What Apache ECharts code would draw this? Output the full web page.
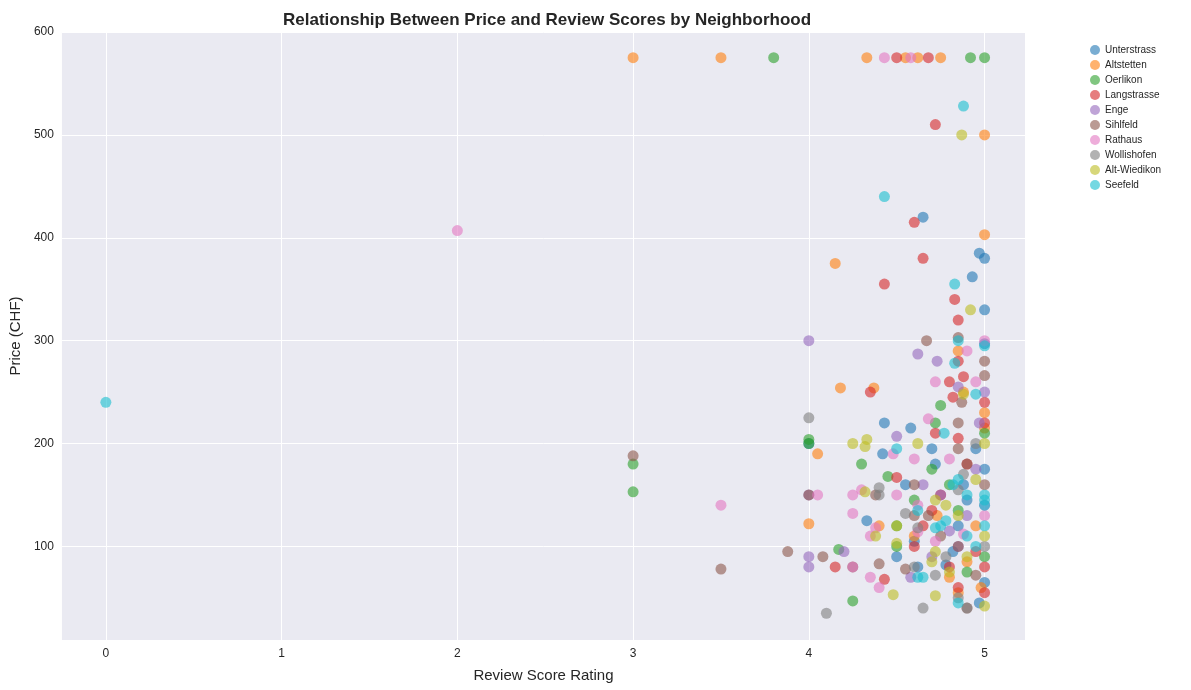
<!DOCTYPE html>
<html>
<head>
<meta charset="utf-8">
<script src="https://cdn.jsdelivr.net/npm/echarts@6/dist/echarts.min.js"></script>
<style>html,body{margin:0;background:#fff}#chart{width:1191px;height:690px}</style>
</head>
<body>
<div id="chart"></div>
<script>
const neighborhoods = ["Unterstrass","Altstetten","Oerlikon","Langstrasse","Enge","Sihlfeld","Rathaus","Wollishofen","Alt-Wiedikon","Seefeld"];
const colors = ["#1f77b4","#ff7f0e","#2ca02c","#d62728","#9467bd","#8c564b","#e377c2","#7f7f7f","#bcbd22","#17becf"];
const xTicks = [0,1,2,3,4,5];
const yTicks = [100,200,300,400,500,600];

const unterstrass = [[4.97,385],[5,380],[4.93,362],[5,330],[4.65,420],[4.43,220],[4.58,215],[4.42,190],[4.33,125],[4.5,90],[4,200],[4.72,180],[4.7,195],[4.6,105],[4.9,145],[4.95,195],[4.97,45],[5,297],[4.85,120],[4.78,82],[4.62,80],[4.88,160],[5,175],[4.82,95],[5,65],[4.55,160]];
const altstetten = [[3,575],[3.5,575],[4.33,575],[4.55,575],[4.62,575],[4.75,575],[5,500],[5,403],[4.15,375],[4.18,254],[4.37,254],[4.05,190],[4,122],[4.85,290],[4.88,250],[5,215],[4.95,120],[4.9,85],[4.73,130],[4.8,70],[5,230],[4.98,60],[4.6,110],[4.85,55],[4.4,120]];
const oerlikon = [[3.8,575],[4.92,575],[5,575],[3,180],[3,153],[4,204],[4,200],[4.17,97],[4.25,47],[4.3,180],[4.5,120],[4.5,100],[4.72,220],[4.75,237],[4.7,175],[4.8,160],[5,210],[4.85,135],[5,90],[4.9,75],[4.6,145],[4.45,168]];
const langstrasse = [[4.5,575],[4.68,575],[4.72,510],[4.6,415],[4.65,380],[4.43,355],[4.83,340],[4.85,320],[4.35,250],[4.85,280],[4.88,265],[4.8,260],[4.82,245],[5,240],[4.72,210],[4.85,205],[4.5,167],[4.7,135],[4.15,80],[4.43,68],[4.6,100],[4.8,80],[5,55],[4.9,180],[5,220],[4.75,150],[4.95,95],[4.65,120],[4.85,60],[5,80]];
const enge = [[4,300],[4.62,287],[4.73,280],[4.85,255],[4.97,220],[4.5,207],[4,150],[4,90],[4,80],[4.2,95],[4.58,70],[4.65,160],[4.8,115],[5,250],[4.9,130],[4.75,150],[4.7,90],[5,140],[4.95,175],[4.85,100]];
const sihlfeld = [[3,188],[3.5,78],[3.88,95],[4.08,90],[4,150],[4.25,80],[4.4,83],[4.6,160],[4.67,300],[4.85,303],[5,280],[5,266],[4.87,240],[4.85,195],[4.6,130],[4.68,130],[4.85,220],[4.9,180],[5,160],[4.9,40],[4.85,100],[4.95,72],[4.55,78],[4.75,110],[4.38,150]];
const rathaus = [[2,407],[3.5,140],[4.43,575],[4.58,575],[4.9,290],[5,300],[4.72,260],[4.68,224],[4.48,190],[4.6,185],[4.05,150],[4.25,150],[4.3,155],[4.35,110],[4.38,118],[4.25,132],[4.25,80],[4.35,70],[4.4,60],[4.5,150],[4.62,140],[4.8,185],[4.95,260],[4.88,112],[4.72,105],[5,130],[4.62,114]];
const wollishofen = [[4,225],[4.1,35],[4.4,157],[4.4,150],[4.65,40],[4.9,40],[4.85,155],[4.55,132],[4.62,118],[4.78,90],[4.95,200],[5,100],[4.72,72],[4.85,50],[4.6,80],[4.88,170]];
const altWiedikon = [[4.87,500],[4.92,330],[4.88,248],[4.25,200],[4.32,197],[4.33,204],[4.32,153],[4.5,120],[4.5,103],[4.48,53],[4.38,110],[4.62,200],[4.72,145],[4.72,95],[4.72,52],[4.8,75],[4.9,90],[5,42],[4.95,165],[4.85,130],[5,110],[4.78,140],[4.7,85],[5,200]];
const seefeld = [[0,240],[4.43,440],[4.88,528],[4.83,355],[4.85,300],[4.83,278],[4.95,248],[4.77,210],[4.5,195],[5,295],[5,150],[5,145],[5,140],[5,120],[4.85,165],[4.75,120],[4.78,125],[4.62,135],[4.62,70],[4.65,70],[4.85,45],[4.9,110],[4.82,160],[4.9,150],[4.95,100],[4.72,118]];
const allData = [unterstrass,altstetten,oerlikon,langstrasse,enge,sihlfeld,rathaus,wollishofen,altWiedikon,seefeld];

const labelFont = { fontSize: 12, color: "#262626", fontFamily: "Liberation Sans" };
const nameFont = { fontSize: 15, color: "#262626", fontFamily: "Liberation Sans" };

const chart = echarts.init(document.getElementById("chart"));
const series = neighborhoods.map((n, i) => ({
  name: n, type: "scatter", data: allData[i], symbolSize: 11,
  itemStyle: { color: colors[i], opacity: 0.6 }, z: 3
}));
// white grid lines drawn under the points
series[0].markLine = {
  silent: true, symbol: "none", label: { show: false }, z: 1,
  lineStyle: { color: "#ffffff", type: "solid", width: 1, opacity: 1 },
  data: xTicks.map(v => ({ xAxis: v })).concat(yTicks.map(v => ({ yAxis: v })))
};

chart.setOption({
  color: colors,
  title: {
    text: "Relationship Between Price and Review Scores by Neighborhood",
    left: 542, top: 7, textAlign: "center",
    textStyle: { fontSize: 17, fontWeight: "bold", color: "#262626", fontFamily: "Liberation Sans" }
  },
  legend: {
    orient: "vertical", left: 1085, top: 40, itemGap: 5,
    icon: "circle", itemWidth: 10, itemHeight: 10,
    textStyle: { fontSize: 10, color: "#262626", fontFamily: "Liberation Sans" },
    data: neighborhoods
  },
  grid: { left: 60, right: 166, top: 32, bottom: 50, show: true, backgroundColor: "#eaeaf2", borderWidth: 0 },
  xAxis: {
    type: "value", min: -0.25, max: 5.23,
    name: "Review Score Rating", nameLocation: "middle", nameGap: 28, nameTextStyle: nameFont,
    axisLine: { show: false },
    axisTick: { show: false, customValues: xTicks },
    axisLabel: Object.assign({ margin: 8, customValues: xTicks }, labelFont),
    splitLine: { show: false }
  },
  yAxis: {
    type: "value", min: 9, max: 600,
    name: "Price (CHF)", nameLocation: "middle", nameGap: 36, nameTextStyle: nameFont,
    axisLine: { show: false },
    axisTick: { show: false, customValues: yTicks },
    axisLabel: Object.assign({ margin: 8, customValues: yTicks }, labelFont),
    splitLine: { show: false }
  },
  series: series
});
</script>
</body>
</html>
